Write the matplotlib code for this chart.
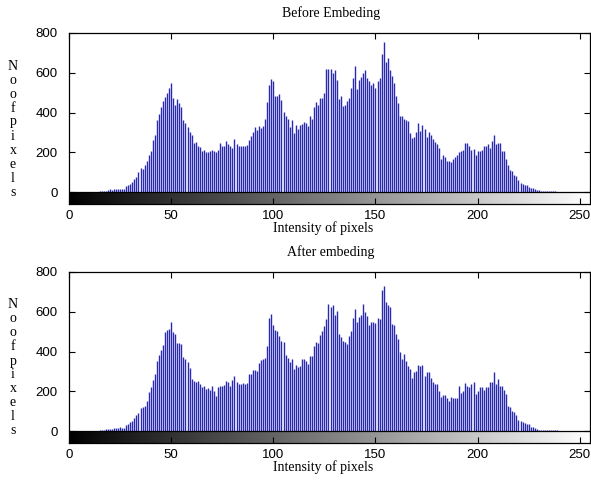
import numpy as np
import matplotlib.pyplot as plt

# pixel counts per grey level (0..255)
before_counts = [
    0, 0, 0, 0, 0, 0, 0, 0, 0, 0, 0, 0, 0, 1, 2, 3,
    4, 5, 7, 9, 13, 12, 14, 15, 14, 17, 16, 17, 30, 35, 42, 50,
    64, 75, 100, 119, 114, 135, 156, 186, 206, 260, 286, 360, 395, 427, 460, 477,
    499, 524, 549, 474, 440, 466, 449, 429, 360, 345, 328, 302, 285, 245, 251, 234,
    226, 206, 210, 201, 204, 206, 214, 206, 201, 214, 245, 231, 234, 258, 240, 234,
    223, 265, 240, 231, 234, 231, 233, 236, 260, 283, 302, 328, 312, 332, 320, 332,
    369, 452, 536, 571, 558, 482, 482, 494, 462, 405, 385, 365, 328, 362, 298, 335,
    318, 335, 340, 352, 345, 332, 385, 369, 429, 452, 440, 474, 474, 500, 621, 621,
    621, 600, 616, 566, 466, 482, 432, 440, 460, 474, 524, 574, 636, 516, 566, 580,
    600, 616, 574, 558, 536, 549, 524, 558, 574, 692, 754, 653, 675, 616, 583, 549,
    482, 449, 382, 385, 365, 360, 357, 298, 273, 278, 300, 345, 307, 335, 318, 278,
    302, 285, 265, 251, 240, 223, 168, 184, 178, 156, 156, 151, 168, 175, 184, 201,
    206, 214, 245, 248, 230, 214, 218, 184, 206, 206, 211, 234, 231, 240, 223, 256,
    285, 240, 248, 245, 206, 206, 168, 134, 111, 106, 84, 80, 60, 44, 42, 38,
    35, 27, 22, 22, 17, 10, 8, 6, 5, 5, 5, 4, 4, 3, 3, 2,
    0, 0, 0, 0, 0, 0, 0, 0, 0, 0, 0, 0, 0, 0, 0, 0,
]

after_counts = [
    0, 0, 0, 0, 0, 0, 0, 0, 0, 0, 0, 0, 0, 1, 2, 3,
    5, 7, 8, 9, 10, 11, 13, 15, 14, 18, 15, 13, 30, 35, 44, 52,
    65, 80, 91, 114, 121, 124, 153, 195, 223, 259, 286, 354, 383, 410, 433, 497,
    506, 511, 548, 497, 489, 444, 444, 438, 371, 360, 349, 316, 262, 254, 245, 254,
    237, 220, 225, 212, 215, 208, 228, 200, 178, 220, 228, 225, 232, 254, 249, 228,
    259, 276, 245, 237, 237, 240, 237, 242, 287, 287, 309, 309, 302, 343, 355, 360,
    366, 427, 568, 590, 531, 506, 501, 480, 455, 447, 383, 366, 346, 360, 312, 333,
    321, 326, 363, 360, 350, 338, 376, 380, 427, 447, 444, 484, 501, 530, 564, 637,
    623, 632, 585, 606, 489, 472, 455, 447, 438, 480, 501, 568, 612, 551, 573, 585,
    640, 598, 578, 531, 551, 548, 544, 568, 564, 707, 732, 648, 632, 623, 539, 531,
    489, 464, 396, 363, 388, 354, 329, 312, 265, 299, 304, 333, 326, 333, 279, 299,
    296, 265, 249, 237, 237, 200, 170, 181, 181, 165, 153, 170, 165, 165, 165, 228,
    192, 203, 242, 228, 220, 235, 249, 186, 203, 220, 220, 208, 220, 220, 245, 249,
    299, 237, 262, 225, 225, 208, 186, 124, 119, 102, 94, 81, 57, 52, 45, 40,
    35, 35, 18, 18, 17, 10, 7, 7, 7, 7, 7, 7, 7, 6, 6, 3,
    0, 0, 0, 0, 0, 0, 0, 0, 0, 0, 0, 0, 0, 0, 0, 0,
]

titles = ["Before Embeding", "After embeding"]
x_label = "Intensity of pixels"
y_label = "\n".join("Noofpixels")
x_ticks = [0, 50, 100, 150, 200, 250]
y_ticks = [0, 200, 400, 600, 800]

W, H = 591, 484
fig = plt.figure(figsize=(W / 100, H / 100), dpi=100)

serif = "Liberation Serif"
sans = "Liberation Sans"

# axes boxes in pixels: (top, bottom) of each panel
panels = [(33, 204), (272, 443)]
gradient = np.linspace(0, 1, 256).reshape(1, -1)
levels = np.arange(256)

for (top, bottom), counts, title in zip(panels, [before_counts, after_counts], titles):
    ax = fig.add_axes([69 / W, 1 - bottom / H, (590 - 69) / W, (bottom - top) / H])
    ax.vlines(levels, 0, counts, color="#2a2ab0", lw=1.0)
    # grey-level bar under the histogram
    ax.imshow(gradient, cmap="gray", extent=[0, 255, -60, 0], aspect="auto",
              interpolation="bilinear", zorder=0)
    ax.axhline(0, color="black", lw=0.9)
    ax.set_xlim(0, 255)
    ax.set_ylim(-60, 800)
    ax.set_xticks(x_ticks)
    ax.set_yticks(y_ticks)
    ax.tick_params(direction="in", length=4, top=True, right=True, labelsize=9.5,
                   labelfontfamily=sans, width=0.8)
    ax.tick_params(axis="x", pad=4)
    ax.tick_params(axis="y", pad=8)
    for s in ax.spines.values():
        s.set_linewidth(0.9)

    fig.text(331 / W, 1 - (top - 20) / H, title, ha="center", va="center",
             family=serif, fontsize=10)
    fig.text(323 / W, 1 - (bottom + 24) / H, x_label, ha="center", va="center",
             family=serif, fontsize=10)
    fig.text(13 / W, 1 - (top + 96) / H, y_label, ha="center", va="center",
             family=serif, fontsize=10, linespacing=1.1)

plt.savefig("out.png", dpi=100)
